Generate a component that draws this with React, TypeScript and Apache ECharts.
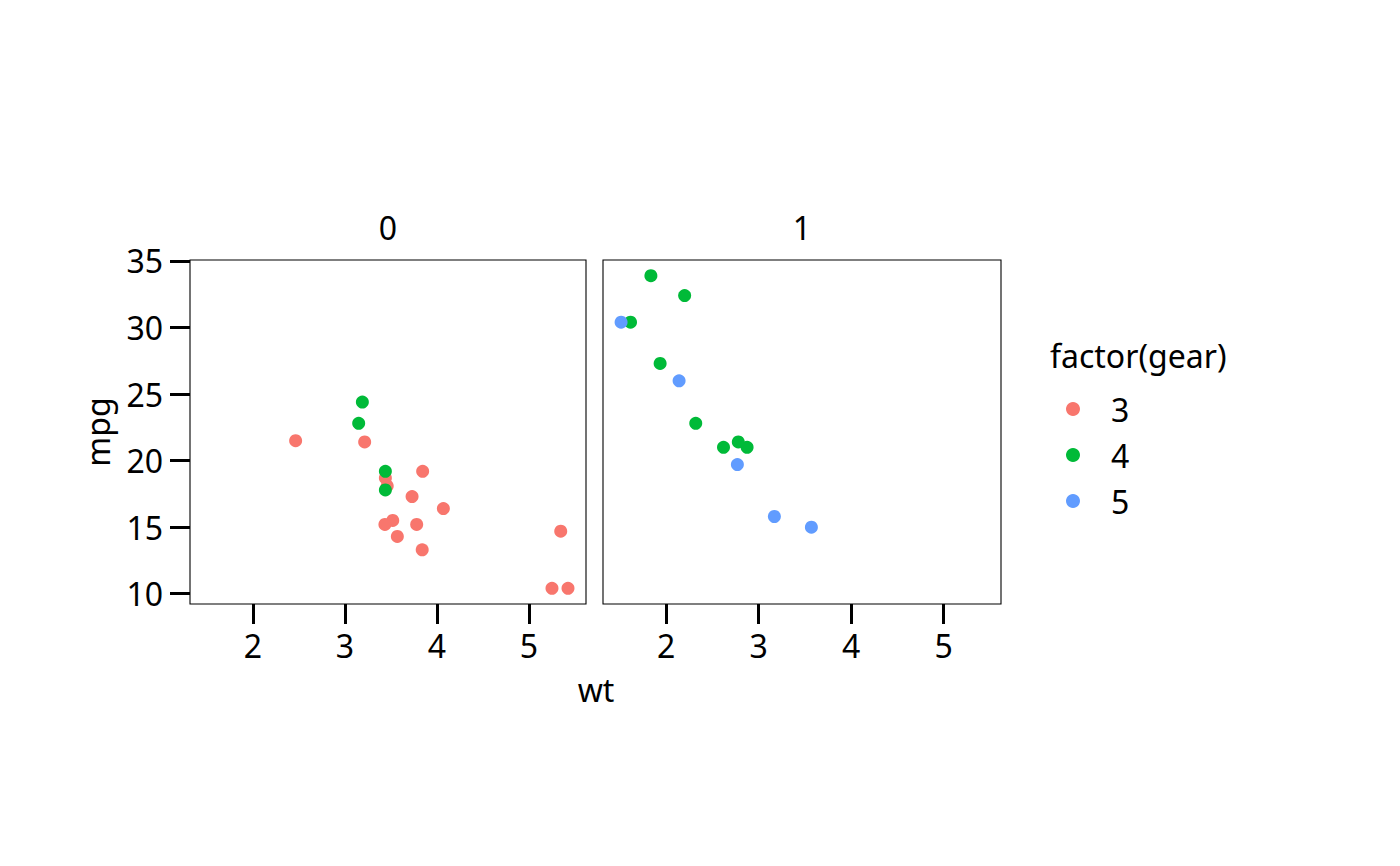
import React, { useEffect, useRef } from "react";
import * as echarts from "echarts";

const wt = [2.62, 2.875, 2.32, 3.215, 3.44, 3.46, 3.57, 3.19, 3.15, 3.44, 3.44, 4.07, 3.73, 3.78, 5.25, 5.424, 5.345, 2.2, 1.615, 1.835, 2.465, 3.52, 3.435, 3.84, 3.845, 1.935, 2.14, 1.513, 3.17, 2.77, 3.57, 2.78];
const mpg = [21.0, 21.0, 22.8, 21.4, 18.7, 18.1, 14.3, 24.4, 22.8, 19.2, 17.8, 16.4, 17.3, 15.2, 10.4, 10.4, 14.7, 32.4, 30.4, 33.9, 21.5, 15.5, 15.2, 13.3, 19.2, 27.3, 26.0, 30.4, 15.8, 19.7, 15.0, 21.4];
const am = [1, 1, 1, 0, 0, 0, 0, 0, 0, 0, 0, 0, 0, 0, 0, 0, 0, 1, 1, 1, 0, 0, 0, 0, 0, 1, 1, 1, 1, 1, 1, 1];
const gear = [4, 4, 4, 3, 3, 3, 3, 4, 4, 4, 4, 3, 3, 3, 3, 3, 3, 4, 4, 4, 3, 3, 3, 3, 3, 4, 5, 5, 5, 5, 5, 4];

const facets = [0, 1];
const gears = [3, 4, 5];
const gearColors = ["#F8766D", "#00BA38", "#619CFF"];
const xTicks = [2, 3, 4, 5];
const yTicks = [10, 15, 20, 25, 30, 35];

const FONT = "Noto Sans";
const FS = 32;

export default function App() {
  const ref = useRef<HTMLDivElement>(null);
  useEffect(() => {
    document.body.style.margin = "0";
    const chart = echarts.init(ref.current!, null, { renderer: "svg" });
    const xmin = 1.513 - 0.05 * (5.424 - 1.513);
    const xmax = 5.424 + 0.05 * (5.424 - 1.513);
    const ymin = 10.4 - 0.05 * (33.9 - 10.4);
    const ymax = 33.9 + 0.05 * (33.9 - 10.4);
    const grids = [
      { left: 190, top: 260, width: 396, height: 344 },
      { left: 603, top: 260, width: 398, height: 344 },
    ].map((g) => ({ ...g, show: true, borderColor: "#000", borderWidth: 1.1, backgroundColor: "transparent" }));

    const tickStyle = { color: "#000", width: 3 };
    const xAxis = facets.map((f, i) => ({
      type: "value",
      gridIndex: i,
      min: xmin,
      max: xmax,
      axisLine: { show: false },
      splitLine: { show: false },
      axisTick: { show: true, length: 20, lineStyle: tickStyle, customValues: xTicks },
      axisLabel: {
        show: true,
        color: "#000",
        fontSize: FS,
        fontFamily: FONT,
        margin: 25,
        customValues: xTicks,
        hideOverlap: false,
      },
    }));
    const yAxis = facets.map((f, i) => ({
      type: "value",
      gridIndex: i,
      min: ymin,
      max: ymax,
      axisLine: { show: false },
      splitLine: { show: false },
      axisTick: { show: i === 0, length: 20, lineStyle: tickStyle, customValues: yTicks },
      axisLabel: {
        show: i === 0,
        color: "#000",
        fontSize: FS,
        fontFamily: FONT,
        margin: 27,
        customValues: yTicks,
      },
    }));

    const series: any[] = [];
    facets.forEach((f, fi) => {
      gears.forEach((g, gi) => {
        const data: number[][] = [];
        for (let k = 0; k < wt.length; k++) {
          if (am[k] === f && gear[k] === g) data.push([wt[k], mpg[k]]);
        }
        series.push({
          type: "scatter",
          name: String(g),
          xAxisIndex: fi,
          yAxisIndex: fi,
          data,
          symbol: "circle",
          symbolSize: 13,
          itemStyle: { color: gearColors[gi], opacity: 1 },
        });
      });
    });

    chart.setOption({
      animation: false,
      backgroundColor: "#fff",
      textStyle: { fontFamily: FONT },
      grid: grids,
      xAxis,
      yAxis,
      series,
      legend: {
        orient: "vertical",
        left: 1066,
        top: 393,
        padding: 0,
        data: gears.map((g) => ({ name: String(g), icon: "circle" })),
        itemWidth: 14,
        itemHeight: 14,
        itemGap: 14,
        selectedMode: false,
        textStyle: { fontSize: FS, fontFamily: FONT, color: "#000", lineHeight: 32, padding: [0, 0, 0, 26] },
      },
      graphic: [
        { type: "text", x: 388, y: 227, style: { text: "0", fontSize: FS, fontFamily: FONT, fill: "#000", align: "center", verticalAlign: "middle" } },
        { type: "text", x: 802, y: 227, style: { text: "1", fontSize: FS, fontFamily: FONT, fill: "#000", align: "center", verticalAlign: "middle" } },
        { type: "text", x: 596, y: 689, style: { text: "wt", fontSize: FS, fontFamily: FONT, fill: "#000", align: "center", verticalAlign: "middle" } },
        { type: "text", x: 97, y: 432, rotation: Math.PI / 2, style: { text: "mpg", fontSize: FS, fontFamily: FONT, fill: "#000", align: "center", verticalAlign: "middle" } },
        { type: "text", x: 1050, y: 355, style: { text: "factor(gear)", fontSize: FS, fontFamily: FONT, fill: "#000", align: "left", verticalAlign: "middle" } },
      ],
    });
    return () => chart.dispose();
  }, []);
  return <div ref={ref} style={{ width: 1400, height: 866 }} />;
}
